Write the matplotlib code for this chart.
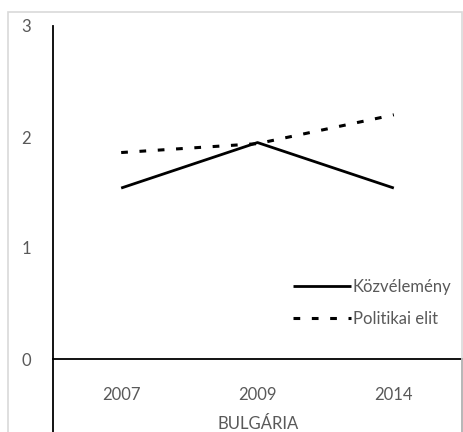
import matplotlib
matplotlib.use("Agg")
import matplotlib.pyplot as plt
from matplotlib.lines import Line2D
from matplotlib.patches import Rectangle

# data
years = ["2007", "2009", "2014"]
kozvelemeny = [1.54, 1.95, 1.54]
politikai_elit = [1.86, 1.94, 2.20]
country = "BULGÁRIA"

W, H = 464, 432
txt = "#595959"
fs = 12
plt.rcParams["font.family"] = ["Lato", "DejaVu Sans"]
plt.rcParams["font.size"] = fs

fig = plt.figure(figsize=(W / 100, H / 100), dpi=100)
# axes box in pixels: x 53..462, y 26..359
ax = fig.add_axes([53 / W, 1 - 359 / H, (462 - 53) / W, (359 - 26) / H])

x = range(len(years))
ax.plot(x, kozvelemeny, color="black", lw=2.0, solid_capstyle="butt", label="Közvélemény")
ax.plot(x, politikai_elit, color="black", lw=2.2, dashes=(2.2, 3.8), label="Politikai elit")

ax.set_xlim(-0.5, len(years) - 0.5)
ax.set_ylim(0, 3)
ax.set_yticks([0, 1, 2, 3])
ax.set_xticks(list(x))
ax.set_xticklabels(years)

for s in ["top", "right"]:
    ax.spines[s].set_visible(False)
ax.spines["left"].set_linewidth(1.3)
ax.spines["bottom"].set_linewidth(1.3)
ax.tick_params(axis="both", length=0, colors=txt, labelsize=fs)
ax.tick_params(axis="y", pad=16)
ax.tick_params(axis="x", pad=20)

# category separators running down past the axis
low = -(H - 359 + 5) / (359 - 26)
for xs in (0, 1):
    ax.add_line(Line2D([xs, xs], [0, low], transform=ax.transAxes, color="black",
                       lw=1.3, clip_on=False))

fig.text(258 / W, 3 / H, country, ha="center", va="baseline", color=txt, fontsize=fs)

# outer chart border
fig.add_artist(Rectangle((8 / W, -0.1), (462 - 8) / W, 1.1 - 12 / H, transform=fig.transFigure,
                         fill=False, edgecolor="#d9d9d9", lw=1.2))

leg = ax.legend(loc="upper left", bbox_to_anchor=(293 / W, 1 - 279 / H),
                bbox_transform=fig.transFigure, frameon=False, borderpad=0,
                borderaxespad=0, handlelength=3.5, handletextpad=0.1,
                labelspacing=0.95, fontsize=fs)
for t in leg.get_texts():
    t.set_color(txt)

fig.savefig("out.png", dpi=100)
